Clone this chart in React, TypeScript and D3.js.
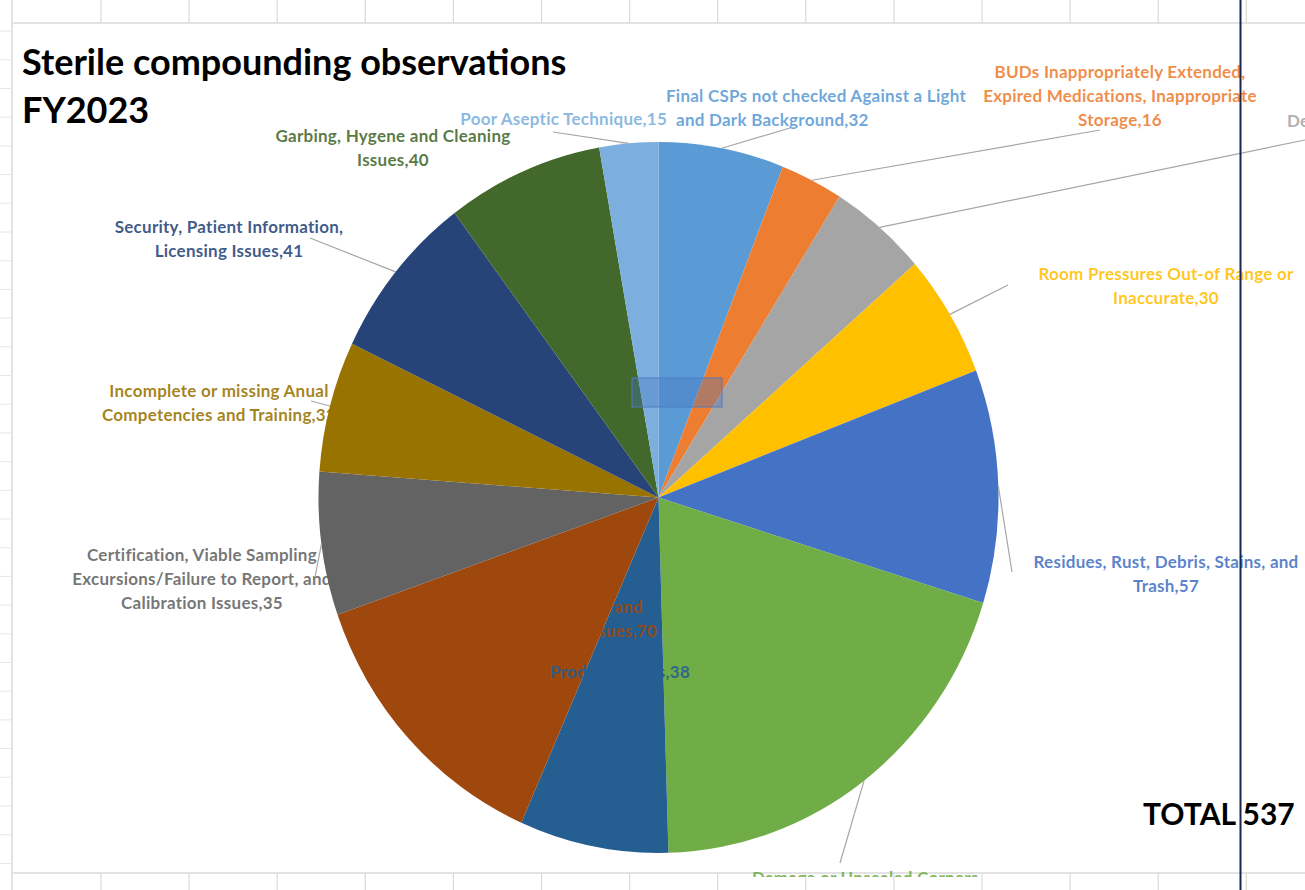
import React from "react";
import * as d3 from "d3";

const categories = [
  "Final CSPs not checked Against a Light and Dark Background",
  "BUDs Inappropriately Extended, Expired Medications, Inappropriate Storage",
  "Deficient Documentation",
  "Room Pressures Out-of Range or Inaccurate",
  "Residues, Rust, Debris, Stains, and Trash",
  "Damage or Unsealed Corners, Walls, and Floors",
  "Product Labels",
  "Cleaning Agents and Disinfectant Issues",
  "Certification, Viable Sampling Excursions/Failure to Report, and Calibration Issues",
  "Incomplete or missing Anual Competencies and Training",
  "Security, Patient Information, Licensing Issues",
  "Garbing, Hygene and Cleaning Issues",
  "Poor Aseptic Technique",
];
const values = [32, 16, 25, 30, 57, 106, 38, 70, 35, 32, 41, 40, 15];
const sliceColors = [
  "#5B9BD5", "#ED7D31", "#A5A5A5", "#FFC000", "#4472C4", "#70AD47", "#255E91",
  "#9E480E", "#636363", "#997300", "#264478", "#43682B", "#7CAFDD",
];
// wrapped label lines (value appended to the last line)
const labelLines = [
  ["Final CSPs not checked Against a Light", "and Dark Background"],
  ["BUDs Inappropriately Extended,", "Expired Medications, Inappropriate", "Storage"],
  ["Deficient Documentation"],
  ["Room Pressures Out-of Range or", "Inaccurate"],
  ["Residues, Rust, Debris, Stains, and", "Trash"],
  ["Damage or Unsealed Corners,", "Walls, and Floors"],
  ["Product Labels"],
  ["Cleaning Agents and", "Disinfectant Issues"],
  ["Certification, Viable Sampling", "Excursions/Failure to Report, and", "Calibration Issues"],
  ["Incomplete or missing Anual", "Competencies and Training"],
  ["Security, Patient Information,", "Licensing Issues"],
  ["Garbing, Hygene and Cleaning", "Issues"],
  ["Poor Aseptic Technique"],
];
const titleLines = ["Sterile compounding observations", "FY2023"];

// ---- layout (positions only) ----
const W = 1305, H = 890;
const CX = 658.5, CY = 497.5, RX = 340, RY = 355.5;
const LH = 24;
const CLIP_BOTTOM = 877;
type LabelPos = {
  x: number; y: number; anchor: string;
  lineX?: number[]; lineAnchor?: string[]; lead?: [number, number] | null;
};
const labelPos: LabelPos[] = [
  { x: 816, y: 102, anchor: "middle", lineX: [816, 676], lineAnchor: ["middle", "start"], lead: [790, 128] },
  { x: 1120, y: 78, anchor: "middle", lead: [1100, 130] },
  { x: 1287, y: 127, anchor: "start", lead: [1305, 140] },
  { x: 1166, y: 280, anchor: "middle", lead: [1008, 285] },
  { x: 1166, y: 568, anchor: "middle", lead: [1012, 572] },
  { x: 752, y: 884, anchor: "start", lead: [840, 863] },
  { x: 690, y: 678, anchor: "end", lead: null },
  { x: 0, y: 613, anchor: "end", lineX: [643, 657], lead: null },
  { x: 202, y: 561, anchor: "middle", lead: [315, 577] },
  { x: 219, y: 397, anchor: "middle", lead: [311, 401] },
  { x: 229, y: 233, anchor: "middle", lead: [310, 238] },
  { x: 393, y: 142, anchor: "middle", lead: null },
  { x: 667, y: 125, anchor: "end", lead: [553, 132] },
];
const colX = d3.range(14).map((k) => 101 + 88.1 * k);
const rowY = d3.range(-7, 23).map((k) => 232 + 28.7 * k).filter((y) => y > 24 && y < 872);

export default function App() {
  const pie = d3.pie<number>().sort(null).value((d) => d).startAngle(0).endAngle(2 * Math.PI);
  const arcs = pie(values);
  const arc = d3.arc<d3.PieArcDatum<number>>().innerRadius(0).outerRadius(RX);
  const total = d3.sum(values);
  const rimPt = (a: number): [number, number] => [CX + RX * Math.sin(a), CY - RY * Math.cos(a)];
  const font = "Lato, 'Open Sans', sans-serif";
  const gridColor = "#dadada";
  const lblProps = { fontFamily: font, fontWeight: 700, fontSize: 17, letterSpacing: 0.25, fillOpacity: 0.88 };

  const renderLabel = (i: number) => {
    const p = labelPos[i];
    const lines = labelLines[i];
    return lines.map((t, j) => {
      const txt = j === lines.length - 1 ? `${t},${values[i]}` : t;
      const x = p.lineX ? p.lineX[j] : p.x;
      const anchor = p.lineAnchor ? p.lineAnchor[j] : p.anchor;
      return (
        <text key={`l${i}-${j}`} x={x} y={p.y + j * LH} textAnchor={anchor} fill={sliceColors[i]}>
          {txt}
        </text>
      );
    });
  };

  return (
    <svg
      width={W}
      height={H}
      style={{ position: "absolute", left: 0, top: 0, display: "block", background: "#fff" }}
    >
      <defs>
        <clipPath id="chartClip">
          <rect x={0} y={0} width={W} height={CLIP_BOTTOM} />
        </clipPath>
      </defs>
      <rect x={0} y={0} width={W} height={H} fill="#ffffff" />
      {/* spreadsheet grid edges */}
      <line x1={12} y1={23} x2={W} y2={23} stroke={gridColor} strokeWidth={1.5} />
      <line x1={12} y1={873} x2={W} y2={873} stroke={gridColor} strokeWidth={1.5} />
      <line x1={12} y1={0} x2={12} y2={H} stroke={gridColor} strokeWidth={1.5} />
      {colX.map((x, i) => (
        <g key={"c" + i}>
          <line x1={x} y1={0} x2={x} y2={23} stroke={gridColor} strokeWidth={1.2} />
          <line x1={x} y1={873} x2={x} y2={H} stroke={gridColor} strokeWidth={1.2} />
        </g>
      ))}
      {rowY.map((y, i) => (
        <line key={"r" + i} x1={0} y1={y} x2={12} y2={y} stroke="#e6e6e6" strokeWidth={1} />
      ))}

      <g clipPath="url(#chartClip)">
        {/* labels drawn under the pie where they overlap it */}
        <g {...lblProps}>
          {labelLines.map((_, i) => (i === 6 || i === 7 ? null : renderLabel(i)))}
        </g>

        {/* pie */}
        <g transform={`translate(${CX},${CY}) scale(1,${RY / RX})`}>
          {arcs.map((a, i) => (
            <path key={"s" + i} d={arc(a) || ""} fill={sliceColors[i]} />
          ))}
        </g>

        {/* leader lines */}
        {arcs.map((a, i) => {
          const p = labelPos[i];
          if (!p.lead) return null;
          const [x1, y1] = rimPt((a.startAngle + a.endAngle) / 2);
          return (
            <line key={"ld" + i} x1={x1} y1={y1} x2={p.lead[0]} y2={p.lead[1]} stroke="#a6a6a6" strokeWidth={1.2} />
          );
        })}

        {/* labels placed inside the pie */}
        <g {...lblProps}>{[6, 7].map((i) => renderLabel(i))}</g>
      </g>

      {/* selection rectangle */}
      <rect x={632} y={378} width={90} height={29} fill="rgba(68,114,196,0.35)" stroke="#4f7cc4" strokeWidth={1} />

      {/* title */}
      <g fontFamily={font} fontWeight={700} fontSize={36} fill="#000">
        <text x={22} y={75}>{titleLines[0]}</text>
        <text x={22} y={123}>{titleLines[1]}</text>
      </g>

      <text x={1143} y={825} fontFamily={font} fontWeight={700} fontSize={30} fill="#000">
        {`TOTAL ${total}`}
      </text>

      {/* dark vertical line */}
      <line x1={1240.5} y1={0} x2={1240.5} y2={H} stroke="#1b2550" strokeWidth={2} />
    </svg>
  );
}
